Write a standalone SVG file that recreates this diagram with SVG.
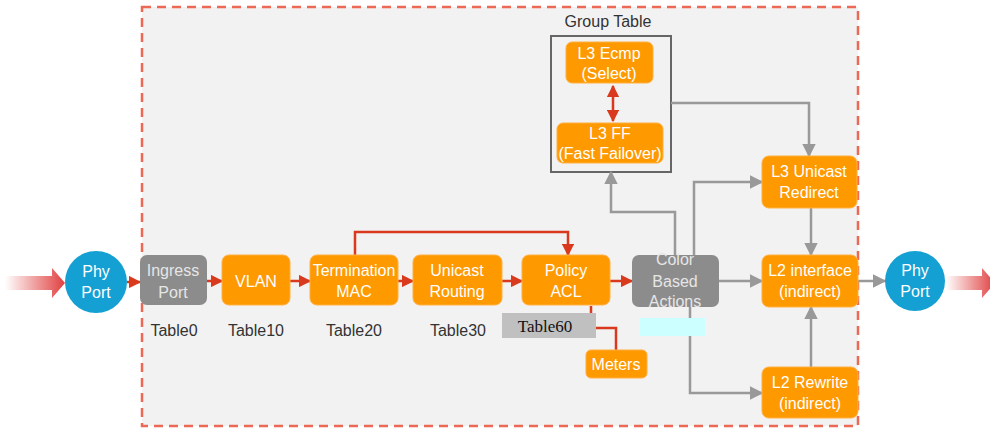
<svg xmlns="http://www.w3.org/2000/svg" width="990" height="429" viewBox="0 0 990 429">
<defs>
<style>
.t{font-family:"Liberation Sans",Arial,sans-serif;font-size:16px;fill:#fff;text-anchor:middle}
.lbl{font-family:"Liberation Sans",Arial,sans-serif;font-size:16px;fill:#333;text-anchor:middle}
.or{fill:#ff9900;stroke:#ffb040;stroke-width:1}
.gr{fill:#8c8c8c}
.bl{fill:#14a0d2}
.red{stroke:#d9391c;stroke-width:2.5;fill:none}
.gry{stroke:#999;stroke-width:2.5;fill:none}
</style>
<marker id="ar" viewBox="0 0 10 10" refX="9" refY="5" markerWidth="5" markerHeight="5" orient="auto"><path d="M0,0L10,5L0,10z" fill="#d9391c"/></marker>
<marker id="ars" viewBox="0 0 10 10" refX="1" refY="5" markerWidth="5" markerHeight="5" orient="auto"><path d="M10,0L0,5L10,10z" fill="#d9391c"/></marker>
<marker id="ag" viewBox="0 0 10 10" refX="9" refY="5" markerWidth="5.5" markerHeight="5.5" orient="auto"><path d="M0,0L10,5L0,10z" fill="#999"/></marker>
<linearGradient id="gin" x1="0" x2="1" y1="0" y2="0"><stop offset="0" stop-color="#e04040" stop-opacity="0"/><stop offset="1" stop-color="#e04040"/></linearGradient>
</defs>
<rect width="990" height="429" fill="#fff"/>
<g id="pipeline-box">
<rect x="142" y="7" width="716" height="419" fill="#f2f2f2" stroke="#ec6a55" stroke-width="2.5" stroke-dasharray="9 6"/>
</g>
<g id="in-arrow"><path d="M5,276H52V268L65,283L52,298V290H5z" fill="url(#gin)"/></g>
<g id="out-arrow"><path d="M946,276H982V268L995,283L982,298V290H946z" fill="url(#gin)"/></g>
<g id="group-table">
<text x="608" y="27" class="lbl">Group Table</text>
<rect x="551" y="36" width="120" height="136" fill="none" stroke="#666" stroke-width="2"/>
</g>
<g id="connectors">
<line x1="127" y1="282" x2="140" y2="282" class="red" marker-end="url(#ar)"/>
<line x1="207" y1="281" x2="222" y2="281" class="red" marker-end="url(#ar)"/>
<line x1="290" y1="281" x2="310" y2="281" class="red" marker-end="url(#ar)"/>
<line x1="398" y1="281" x2="413" y2="281" class="red" marker-end="url(#ar)"/>
<line x1="502" y1="281" x2="522" y2="281" class="red" marker-end="url(#ar)"/>
<line x1="610" y1="281" x2="632" y2="281" class="red" marker-end="url(#ar)"/>
<path d="M355,255V232H568V255" class="red" marker-end="url(#ar)"/>
<path d="M591,306V328H616V350" class="red"/>
<line x1="613" y1="86" x2="613" y2="121" class="red" marker-start="url(#ars)" marker-end="url(#ar)"/>
<path d="M671,103H809V156" class="gry" marker-end="url(#ag)"/>
<path d="M675,255V212H611V172" class="gry" marker-end="url(#ag)"/>
<path d="M694,255V182H762" class="gry" marker-end="url(#ag)"/>
<path d="M690,307V393H762" class="gry" marker-end="url(#ag)"/>
<line x1="719" y1="281" x2="762" y2="281" class="gry" marker-end="url(#ag)"/>
<line x1="858" y1="281" x2="885" y2="281" class="gry" marker-end="url(#ag)"/>
<line x1="811" y1="208" x2="811" y2="255" class="gry" marker-end="url(#ag)"/>
<line x1="811" y1="367" x2="811" y2="307" class="gry" marker-end="url(#ag)"/>
</g>
<g id="phy-in"><circle cx="96" cy="282" r="31" class="bl"/><text x="96" y="277" class="t">Phy</text><text x="96" y="298" class="t">Port</text></g>
<g id="ingress"><rect x="140" y="255" width="67" height="50" rx="7" class="gr"/><text x="173" y="276" class="t" style="fill:#e6e6e6">Ingress</text><text x="173" y="298" class="t" style="fill:#e6e6e6">Port</text></g>
<g id="vlan"><rect x="222" y="255" width="68" height="50" rx="7" class="or"/><text x="256" y="287" class="t">VLAN</text></g>
<g id="termination"><rect x="310" y="255" width="88" height="50" rx="7" class="or"/><text x="354" y="276" class="t">Termination</text><text x="354" y="297" class="t">MAC</text></g>
<g id="unicast"><rect x="413" y="255" width="89" height="50" rx="7" class="or"/><text x="457" y="276" class="t">Unicast</text><text x="457" y="297" class="t">Routing</text></g>
<g id="policy"><rect x="522" y="255" width="88" height="50" rx="7" class="or"/><text x="566" y="276" class="t">Policy</text><text x="566" y="297" class="t">ACL</text></g>
<g id="color"><rect x="632" y="255" width="87" height="52" rx="7" class="gr"/><text x="675" y="265" class="t" style="fill:#e6e6e6">Color</text><text x="675" y="287" class="t" style="fill:#e6e6e6">Based</text><text x="675" y="307" class="t" style="fill:#e6e6e6">Actions</text></g>
<g id="l3ecmp"><rect x="566" y="42" width="87" height="41" rx="6" class="or"/><text x="609" y="59" class="t">L3 Ecmp</text><text x="609" y="79" class="t">(Select)</text></g>
<g id="l3ff"><rect x="557" y="123" width="106" height="40" rx="6" class="or"/><text x="610" y="139" class="t">L3 FF</text><text x="610" y="159" class="t">(Fast Failover)</text></g>
<g id="l3unicast"><rect x="762" y="156" width="95" height="52" rx="7" class="or"/><text x="809" y="177" class="t">L3 Unicast</text><text x="809" y="198" class="t">Redirect</text></g>
<g id="l2interface"><rect x="762" y="255" width="96" height="52" rx="7" class="or"/><text x="810" y="276" class="t">L2 interface</text><text x="810" y="297" class="t">(indirect)</text></g>
<g id="l2rewrite"><rect x="762" y="367" width="96" height="51" rx="7" class="or"/><text x="810" y="388" class="t">L2 Rewrite</text><text x="810" y="409" class="t">(indirect)</text></g>
<g id="meters"><rect x="586" y="350" width="61" height="28" rx="5" class="or"/><text x="616" y="370" class="t">Meters</text></g>
<g id="phy-out"><circle cx="915" cy="281" r="30" class="bl"/><text x="915" y="276" class="t">Phy</text><text x="915" y="297" class="t">Port</text></g>
<g id="labels">
<text x="174" y="336" class="lbl">Table0</text>
<text x="256" y="336" class="lbl">Table10</text>
<text x="354" y="336" class="lbl">Table20</text>
<text x="458" y="336" class="lbl">Table30</text>
<rect x="502" y="313" width="94" height="25" fill="#c0c0c0"/>
<text x="545" y="332" font-family="Liberation Serif,serif" font-size="17" fill="#111" text-anchor="middle">Table60</text>
<rect x="640" y="318" width="65" height="18" fill="#ccffff"/>
</g>
</svg>
